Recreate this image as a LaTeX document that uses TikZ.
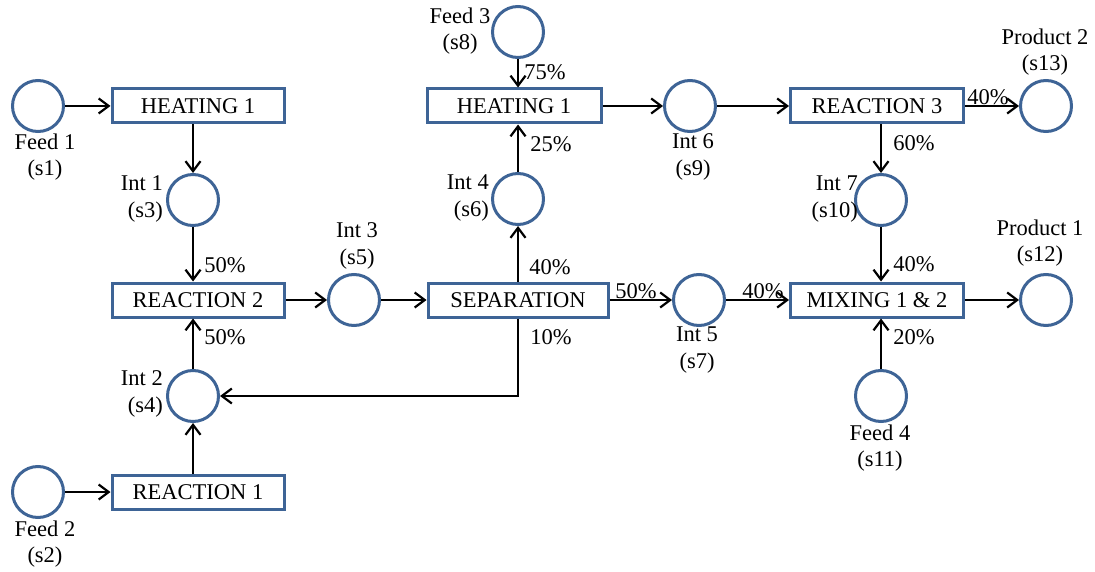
\documentclass[tikz,border=0pt]{standalone}
\usepackage{fontspec}
\setmainfont{Liberation Serif}
\usetikzlibrary{arrows.meta,calc}
\definecolor{bordblue}{RGB}{62,100,150}
\tikzset{
  place/.style={circle,draw=bordblue,line width=3pt,fill=white,minimum size=51pt,inner sep=0pt},
  trans/.style={rectangle,draw=bordblue,line width=3pt,fill=white,minimum width=172pt,minimum height=34pt,inner sep=0pt,font=\fontsize{22.5}{26}\selectfont},
  lbl/.style={font=\fontsize{22.5}{26.5}\selectfont,inner sep=0pt,align=center},
  rlbl/.style={font=\fontsize{22.5}{26.5}\selectfont,inner sep=0pt,align=right,anchor=east},
  pct/.style={font=\fontsize{22.5}{26}\selectfont,inner sep=0pt},
  arr/.style={draw=black,line width=2.2pt,-{Straight Barb[length=10pt,width=15pt]}}
}
\begin{document}
\begin{tikzpicture}[x=1pt,y=-1pt]
\useasboundingbox (0,0) rectangle (1095,572);
% places
\node[place] (s1) at (38,106) {};
\node[place] (s2) at (38,492) {};
\node[place] (s3) at (193,200) {};
\node[place] (s4) at (193,396) {};
\node[place] (s5) at (354,300) {};
\node[place] (s6) at (518,199) {};
\node[place] (s7) at (699,300) {};
\node[place] (s8) at (518,32) {};
\node[place] (s9) at (690,106) {};
\node[place] (s10) at (881,200) {};
\node[place] (s11) at (881,396) {};
\node[place] (s12) at (1046,300) {};
\node[place] (s13) at (1046,106) {};
% transitions
\node[trans] (h1) at (198,106) {HEATING 1};
\node[trans] (r2) at (198,300) {REACTION 2};
\node[trans] (r1) at (198,492) {REACTION 1};
\node[trans,minimum width=180pt] (sep) at (518,300) {SEPARATION};
\node[trans,minimum width=174pt] (h2) at (514,106) {HEATING 1};
\node[trans,minimum width=173pt] (r3) at (877,106) {REACTION 3};
\node[trans,minimum width=173pt] (mix) at (877,300) {MIXING 1 \& 2};
% labels
\node[lbl] (l1) at (45,157) {Feed 1\\(s1)};
\node[lbl] (l2) at (45,544) {Feed 2\\(s2)};
\node[rlbl] (l3) at (163,199) {Int 1\\(s3)};
\node[rlbl] (l4) at (163,394) {Int 2\\(s4)};
\node[lbl] (l5) at (357,246) {Int 3\\(s5)};
\node[rlbl] (l6) at (489,198) {Int 4\\(s6)};
\node[lbl] (l7) at (697,350) {Int 5\\(s7)};
\node[lbl] (l8) at (460,31) {Feed 3\\(s8)};
\node[lbl] (l9) at (693,157) {Int 6\\(s9)};
\node[rlbl] (l10) at (858,199) {Int 7\\(s10)};
\node[lbl] (l11) at (880,448) {Feed 4\\(s11)};
\node[lbl] (l12) at (1040,243) {Product 1\\(s12)};
\node[lbl] (l13) at (1045,52) {Product 2\\(s13)};
% connectors
\draw[arr] (s1) -- (h1);
\draw[arr] (h1.south -| s3) -- (s3);
\draw[arr] (s3) -- (s3 |- r2.north);
\draw[arr] (r1.north -| s4) -- (s4);
\draw[arr] (s4) -- (s4 |- r2.south);
\draw[arr] (s2) -- (r1);
\draw[arr] (r2) -- (s5);
\draw[arr] (s5) -- (sep);
\draw[arr] (sep.north -| s6) -- (s6);
\draw[arr] (s6) -- (s6 |- h2.south);
\draw[arr] (s8) -- (s8 |- h2.north);
\draw[arr] (h2) -- (s9);
\draw[arr] (s9) -- (r3);
\draw[arr] (r3) -- (s13);
\draw[arr] (r3.south -| s10) -- (s10);
\draw[arr] (s10) -- (s10 |- mix.north);
\draw[arr] (sep) -- (s7);
\draw[arr] (s7) -- (mix);
\draw[arr] (mix) -- (s12);
\draw[arr] (s11) -- (s11 |- mix.south);
\draw[arr] (sep.south -| s6) |- (s4);
% percentages
\node[pct] (p1) at (225,265) {50\%};
\node[pct] (p2) at (225,337) {50\%};
\node[pct] (p3) at (550,267) {40\%};
\node[pct] (p4) at (551,337) {10\%};
\node[pct] (p5) at (636,291) {50\%};
\node[pct] (p6) at (763,291) {40\%};
\node[pct] (p7) at (545,72) {75\%};
\node[pct] (p8) at (551,144) {25\%};
\node[pct] (p9) at (914,143) {60\%};
\node[pct] (p10) at (988,97) {40\%};
\node[pct] (p11) at (914,264) {40\%};
\node[pct] (p12) at (914,337) {20\%};
\end{tikzpicture}
\end{document}
